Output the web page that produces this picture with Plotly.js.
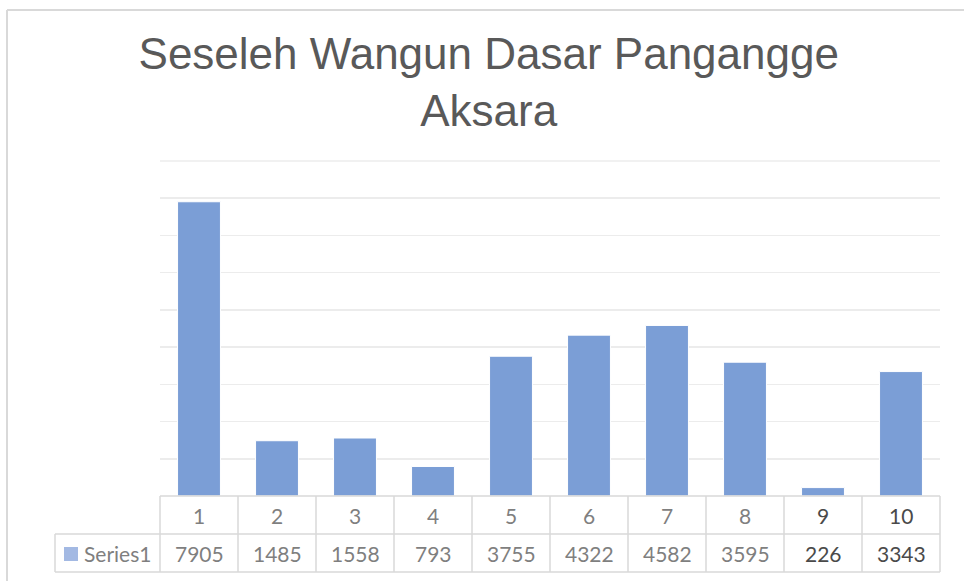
<!DOCTYPE html>
<html>
<head>
<meta charset="utf-8">
<script src="https://cdn.plot.ly/plotly-3.0.1.min.js"></script>
<style>html,body{margin:0;padding:0;background:#fff;}#chart{width:964px;height:581px;}</style>
</head>
<body>
<div id="chart"></div>
<script>
const categories = ['1','2','3','4','5','6','7','8','9','10'];
const seriesName = 'Series1';
const values = [7905, 1485, 1558, 793, 3755, 4322, 4582, 3595, 226, 3343];
const titleText = 'Seseleh Wangun Dasar Pangangge<br>Aksara';

const W = 964, H = 581;
const L = 160, R = 24, T = 161, B = 85;
const plotW = W - L - R, plotH = H - T - B;
const px2x = p => (p - L) / plotW;
const py2y = p => (H - B - p) / plotH;
const lineCol = '#d9d9d9';
const textCol = '#595959';

const shapes = [];
const annotations = [];
const rowTop = H - B, rowMid = rowTop + 38, rowBot = rowTop + 76;
const colW = plotW / categories.length;

// top gridline (edge of range)
shapes.push({type:'line', xref:'paper', yref:'paper', x0:0, x1:1, y0:1, y1:1, line:{color:'#ececec', width:1.5}});
// horizontal table lines
shapes.push({type:'line', xref:'paper', yref:'paper', x0:px2x(L), x1:px2x(L+plotW), y0:py2y(rowTop), y1:py2y(rowTop), line:{color:lineCol, width:1.5}});
shapes.push({type:'line', xref:'paper', yref:'paper', x0:px2x(55), x1:px2x(L+plotW), y0:py2y(rowMid), y1:py2y(rowMid), line:{color:lineCol, width:1.5}});
shapes.push({type:'line', xref:'paper', yref:'paper', x0:px2x(55), x1:px2x(L+plotW), y0:py2y(rowBot), y1:py2y(rowBot), line:{color:lineCol, width:1.5}});
// vertical table lines
for (let k = 0; k <= categories.length; k++) {
  const x = px2x(L + k * colW);
  shapes.push({type:'line', xref:'paper', yref:'paper', x0:x, x1:x, y0:py2y(rowTop), y1:py2y(rowBot), line:{color:lineCol, width:1.5}});
}
shapes.push({type:'line', xref:'paper', yref:'paper', x0:px2x(55), x1:px2x(55), y0:py2y(rowMid), y1:py2y(rowBot), line:{color:lineCol, width:1.5}});
// legend key square
shapes.push({type:'rect', xref:'paper', yref:'paper', x0:px2x(64), x1:px2x(78), y0:py2y(547), y1:py2y(561), fillcolor:'#a3b9e3', line:{width:0}});
// chart outer border
shapes.push({type:'line', xref:'paper', yref:'paper', x0:px2x(7), x1:px2x(7), y0:py2y(10), y1:py2y(H), line:{color:lineCol, width:2}});
shapes.push({type:'line', xref:'paper', yref:'paper', x0:px2x(7), x1:px2x(W), y0:py2y(10), y1:py2y(10), line:{color:lineCol, width:2}});

categories.forEach((c, i) => {
  const dark = i >= 8;
  const xc = (i + 0.5) / categories.length;
  const f = {family:'Lato, Carlito, sans-serif', size:21, color: dark ? '#4a4a4a' : '#7f7f7f'};
  annotations.push({x:xc, xref:'paper', yref:'paper', y:py2y((rowTop+rowMid)/2), xanchor:'center', yanchor:'middle', text:c, showarrow:false, font:f});
  annotations.push({x:xc, xref:'paper', yref:'paper', y:py2y((rowMid+rowBot)/2), xanchor:'center', yanchor:'middle', text:String(values[i]), showarrow:false, font:f});
});
annotations.push({x:px2x(82), xref:'paper', yref:'paper', y:py2y((rowMid+rowBot)/2), xanchor:'left', yanchor:'middle', text:seriesName, showarrow:false,
  font:{family:'Lato, Carlito, sans-serif', size:21, color:'#7f7f7f'}});

const data = [{
  type:'bar', x:categories, y:values, name:seriesName,
  marker:{color:'#7b9ed6', line:{color:'#ffffff', width:1}},
  hoverinfo:'x+y'
}];

const layout = {
  width:W, height:H,
  margin:{l:L, r:R, t:T, b:B},
  paper_bgcolor:'#ffffff', plot_bgcolor:'#ffffff',
  showlegend:false,
  bargap:0.45,
  title:{text:titleText, xref:'container', x:0.507, xanchor:'center', yref:'container', y:1-69/H, yanchor:'middle',
    font:{family:'Liberation Sans, Arial, sans-serif', size:44, color:textCol}},
  xaxis:{type:'category', range:[-0.5, 9.5], autorange:false, showticklabels:false, ticks:'', showgrid:false, zeroline:false, showline:false, fixedrange:true},
  yaxis:{range:[0,9000], autorange:false, dtick:1000, showticklabels:false, ticks:'', showgrid:true, gridcolor:'#ececec', gridwidth:1.5, zeroline:false, showline:false, fixedrange:true},
  shapes:shapes,
  annotations:annotations
};

Plotly.newPlot('chart', data, layout, {displayModeBar:false, staticPlot:true});
</script>
</body>
</html>
